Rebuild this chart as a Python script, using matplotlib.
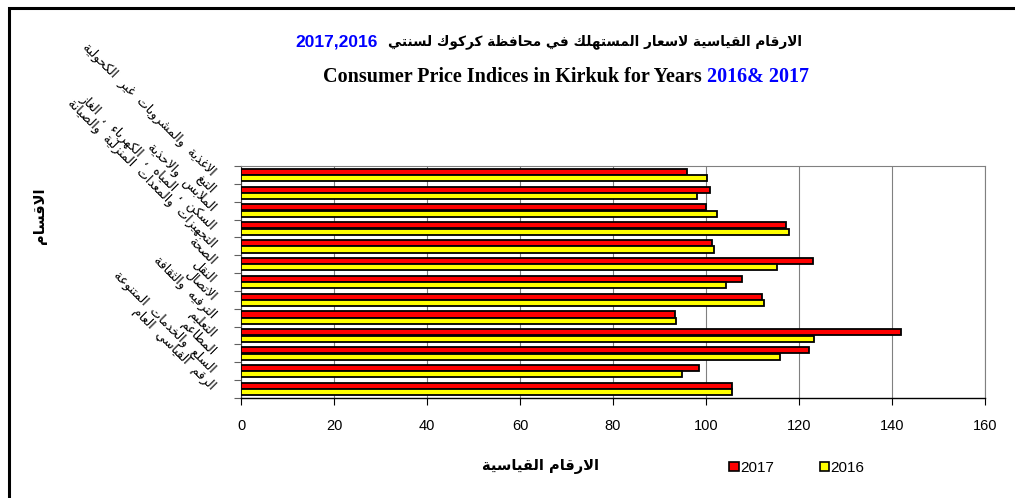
import matplotlib
matplotlib.use("Agg")
import matplotlib.pyplot as plt
import numpy as np
from matplotlib.patches import Patch, Rectangle

# ---------------- data ----------------
categories = ['الاغذية والمشروبات غير الكحولية', 'التبغ', 'الملابس والاحذية',
              'السكن ، المياه ، الكهرباء ، الغاز',
              'التجهيزات والمعدات المنزلية والصيانة', 'الصحة', 'النقل',
              'الاتصال', 'الترفيه والثقافة', 'التعليم', 'المطاعم',
              'السلع والخدمات المتنوعة', 'الرقم القياسي العام']
values_2017 = [96.0, 100.9, 100.0, 117.2, 101.3, 123.1, 107.7, 112.0, 93.3, 142.0, 122.1, 98.4, 105.5]
values_2016 = [100.3, 98.1, 102.3, 117.8, 101.8, 115.3, 104.4, 112.4, 93.6, 123.2, 116.0, 94.9, 105.5]
series_labels = ['2017', '2016']
x_ticks = [0, 20, 40, 60, 80, 100, 120, 140, 160]

title_ar = 'الارقام القياسية لاسعار المستهلك في محافظة كركوك لسنتي'
title_ar_years = '2017,2016'
title_en = 'Consumer Price Indices in Kirkuk for Years '
title_en_years = '2016& 2017'
xlabel = 'الارقام القياسية'
ylabel = 'الاقسام'

# ---------------- simple Arabic shaper ----------------
_F = {
    'ء': (0xFE80,), 'آ': (0xFE81, 0xFE82), 'أ': (0xFE83, 0xFE84), 'ؤ': (0xFE85, 0xFE86),
    'إ': (0xFE87, 0xFE88), 'ئ': (0xFE89, 0xFE8A, 0xFE8B, 0xFE8C), 'ا': (0xFE8D, 0xFE8E),
    'ب': (0xFE8F, 0xFE90, 0xFE91, 0xFE92), 'ة': (0xFE93, 0xFE94),
    'ت': (0xFE95, 0xFE96, 0xFE97, 0xFE98), 'ث': (0xFE99, 0xFE9A, 0xFE9B, 0xFE9C),
    'ج': (0xFE9D, 0xFE9E, 0xFE9F, 0xFEA0), 'ح': (0xFEA1, 0xFEA2, 0xFEA3, 0xFEA4),
    'خ': (0xFEA5, 0xFEA6, 0xFEA7, 0xFEA8), 'د': (0xFEA9, 0xFEAA), 'ذ': (0xFEAB, 0xFEAC),
    'ر': (0xFEAD, 0xFEAE), 'ز': (0xFEAF, 0xFEB0), 'س': (0xFEB1, 0xFEB2, 0xFEB3, 0xFEB4),
    'ش': (0xFEB5, 0xFEB6, 0xFEB7, 0xFEB8), 'ص': (0xFEB9, 0xFEBA, 0xFEBB, 0xFEBC),
    'ض': (0xFEBD, 0xFEBE, 0xFEBF, 0xFEC0), 'ط': (0xFEC1, 0xFEC2, 0xFEC3, 0xFEC4),
    'ظ': (0xFEC5, 0xFEC6, 0xFEC7, 0xFEC8), 'ع': (0xFEC9, 0xFECA, 0xFECB, 0xFECC),
    'غ': (0xFECD, 0xFECE, 0xFECF, 0xFED0), 'ف': (0xFED1, 0xFED2, 0xFED3, 0xFED4),
    'ق': (0xFED5, 0xFED6, 0xFED7, 0xFED8), 'ك': (0xFED9, 0xFEDA, 0xFEDB, 0xFEDC),
    'ل': (0xFEDD, 0xFEDE, 0xFEDF, 0xFEE0), 'م': (0xFEE1, 0xFEE2, 0xFEE3, 0xFEE4),
    'ن': (0xFEE5, 0xFEE6, 0xFEE7, 0xFEE8), 'ه': (0xFEE9, 0xFEEA, 0xFEEB, 0xFEEC),
    'و': (0xFEED, 0xFEEE), 'ى': (0xFEEF, 0xFEF0), 'ي': (0xFEF1, 0xFEF2, 0xFEF3, 0xFEF4),
}
_LA = {'آ': (0xFEF5, 0xFEF6), 'أ': (0xFEF7, 0xFEF8), 'إ': (0xFEF9, 0xFEFA), 'ا': (0xFEFB, 0xFEFC)}


def shape(text):
    out = []
    prev_joins = False
    i = 0
    n = len(text)
    while i < n:
        c = text[i]
        if c not in _F:
            out.append(c)
            prev_joins = False
            i += 1
            continue
        if c == 'ل' and i + 1 < n and text[i + 1] in _LA:
            lig = _LA[text[i + 1]]
            out.append(chr(lig[1] if prev_joins else lig[0]))
            prev_joins = False
            i += 2
            continue
        f = _F[c]
        nxt = text[i + 1] if i + 1 < n else None
        join_next = len(f) == 4 and nxt in _F and nxt != 'ء'
        if len(f) == 1:
            g = f[0]
        elif prev_joins and join_next:
            g = f[3]
        elif prev_joins:
            g = f[1]
        elif join_next:
            g = f[2]
        else:
            g = f[0]
        out.append(chr(g))
        prev_joins = join_next
        i += 1
    return ''.join(out)[::-1]


AR = 'DejaVu Sans'
LAT = 'Liberation Sans'
SERIF = 'Liberation Serif'

# ---------------- figure ----------------
W, H = 1015, 498
fig = plt.figure(figsize=(W / 100, H / 100), dpi=100)
fig.patch.set_facecolor('white')

# outer border (left and top visible)
fig.add_artist(Rectangle((8.5 / W, -0.05), 1.2, 1 - 8.5 / H + 0.05, transform=fig.transFigure,
                         fill=False, edgecolor='black', linewidth=2.2))

left, right, top, bottom = 241, 985, 166, 398
ax = fig.add_axes([left / W, 1 - bottom / H, (right - left) / W, (bottom - top) / H])

n = len(categories)
pos = np.arange(n)[::-1]
h = 0.34
ax.barh(pos + 0.18, values_2017, height=h, color='#FF0000', edgecolor='black', linewidth=1.3,
        label=series_labels[0], zorder=3)
ax.barh(pos - 0.18, values_2016, height=h, color='#FFFF00', edgecolor='black', linewidth=1.3,
        label=series_labels[1], zorder=3)

ax.set_xlim(0, 160)
ax.set_ylim(-0.5, n - 0.5)
ax.set_xticks(x_ticks)
ax.set_xticklabels([str(t) for t in x_ticks], fontfamily=LAT, fontsize=10.5)
ax.set_yticks(np.arange(n + 1) - 0.5)
ax.set_yticklabels([])
ax.tick_params(axis='x', direction='out', length=5, width=0.8, pad=10, colors='black')
ax.tick_params(axis='y', direction='out', length=5, width=0.8, color='#606060')
ax.xaxis.grid(True, color='#808080', linewidth=0.8, zorder=0)
ax.set_axisbelow(True)
for s in ['top', 'right']:
    ax.spines[s].set_color('#808080')
    ax.spines[s].set_linewidth(0.8)
ax.spines['left'].set_color('#404040')
ax.spines['bottom'].set_color('black')
ax.spines['bottom'].set_linewidth(1.0)

# rotated category labels
for i, c in enumerate(categories):
    ax.text(-0.037, (pos[i] + 0.55) / n, shape(c).replace(' ', '  '), transform=ax.transAxes,
            rotation=-45, rotation_mode='anchor', ha='right', va='center',
            fontfamily=AR, fontsize=9)

# axis titles
fig.text(540 / W, 1 - 466 / H, shape(xlabel), fontfamily=AR, fontweight='bold', fontsize=10.5,
         ha='center', va='center')
fig.text(40 / W, 1 - 216 / H, shape(ylabel), fontfamily=AR, fontweight='bold', fontsize=10.5,
         rotation=90, ha='center', va='center')

# titles
fig.canvas.draw()
r = fig.canvas.get_renderer()
t1 = fig.text(802 / W, 1 - 42 / H, shape(title_ar), fontfamily=AR, fontweight='bold',
              fontsize=9.8, ha='right', va='center')
bb = t1.get_window_extent(r)
fig.text((bb.x0 - 10) / W, 1 - 42 / H, title_ar_years, fontfamily=LAT, fontweight='bold',
         fontsize=12.5, color='#0000FF', ha='right', va='center')

t2 = fig.text(323 / W, 1 - 77 / H, title_en, fontfamily=SERIF, fontweight='bold',
              fontsize=14.5, ha='left', va='center')
bb2 = t2.get_window_extent(r)
fig.text(bb2.x1 / W, 1 - 77 / H, title_en_years, fontfamily=SERIF, fontweight='bold',
         fontsize=14.5, color='#0000FF', ha='left', va='center')

# legend
handles = [Patch(facecolor='#FF0000', edgecolor='black', linewidth=1.2, label=series_labels[0]),
           Patch(facecolor='#FFFF00', edgecolor='black', linewidth=1.2, label=series_labels[1])]
fig.legend(handles=handles, loc='center', bbox_to_anchor=(797 / W, 1 - 468 / H), ncol=2,
           frameon=False, prop={'family': LAT, 'size': 11}, handlelength=0.6, handleheight=0.6,
           handletextpad=0.1, columnspacing=3.0)

fig.savefig('out.png', dpi=100, facecolor='white')
